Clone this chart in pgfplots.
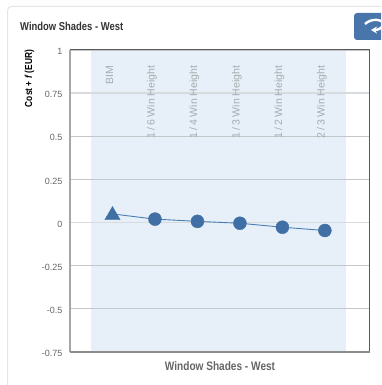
\documentclass[border=0pt]{standalone}
\usepackage{fontspec}
\setmainfont{Liberation Sans}
\newfontfamily\cond[FakeStretch=0.82]{Liberation Sans}
\usepackage{pgfplots}
\usetikzlibrary{arrows.meta}
\pgfplotsset{compat=1.18}
\definecolor{band}{HTML}{E7F0F8}
\definecolor{mk}{HTML}{3F6FA5}
\definecolor{ln}{HTML}{4A7DB3}
\definecolor{gridthin}{HTML}{C3C7CA}
\definecolor{gridthick}{HTML}{D8DBDD}
\definecolor{ticktxt}{HTML}{666666}
\definecolor{cat}{HTML}{A6ABB0}
\begin{document}
\begin{tikzpicture}
\path (0pt,0pt) rectangle (381pt,385pt);
\begin{scope}[overlay,x=1pt,y=1pt]
\clip (0,0) rectangle (381,385);
\draw[draw=black!10,line width=1pt,rounded corners=4pt] (7.5,-20) -- (7.5,378.5) -- (400,378.5);
\fill[mk!95,rounded corners=3pt] (354,345) rectangle (400,372);
\draw[white,line width=2.4pt,-{Stealth[length=6pt,width=7pt]}] (365,361) .. controls (371,367) and (383,366) .. (383,361) .. controls (383,357) and (378,355) .. (371,355);
\end{scope}
\begin{scope}[x=1pt,y=1pt]
\node[anchor=west,inner sep=0pt,text=black!80,font=\cond\bfseries\fontsize{11.5}{13}\selectfont] at (20,358.5) {Window Shades - West};
\node[anchor=center,inner sep=0pt,text=black!60,font=\cond\bfseries\fontsize{12.3}{14}\selectfont] at (220,19) {Window Shades - West};
\node[anchor=center,rotate=90,inner sep=0pt,text=black,font=\cond\bfseries\fontsize{10.2}{12}\selectfont] at (29.5,306.5) {Cost + \textit{f} (EUR)};
\end{scope}
\begin{axis}[
  at={(70pt,33pt)},anchor=south west,
  scale only axis,width=299.5pt,height=302pt,
  set layers,
  xmin=-1,xmax=6.05,ymin=-0.75,ymax=1,
  xtick=\empty,
  ytick={-0.75,-0.5,-0.25,0.25,0.5,1},
  extra y ticks={0,0.75},
  extra y tick style={grid style={gridthick,line width=1.6pt}},
  ymajorgrids,
  grid style={gridthin,line width=0.8pt},
  major tick length=0pt,
  axis line style={draw=none},
  tick label style={font=\fontsize{9}{11}\selectfont,text=ticktxt},
  yticklabel style={xshift=-4pt,yshift=-1.5pt,/pgf/number format/fixed,/pgf/number format/precision=2,/pgf/number format/assume math mode=true},
  clip=false,
]
\addplot[/pgfplots/on layer=axis background,fill=band,draw=none] coordinates {(-0.5,-0.75) (-0.5,1) (5.5,1) (5.5,-0.75)};
\addplot[ln,line width=0.9pt,no markers] coordinates {(0,0.05) (1,0.02) (2,0.007) (3,-0.004) (4,-0.027) (5,-0.046)};
\addplot[only marks,mark=triangle*,mark size=8.8pt,mk,mark options={draw=mk,fill=mk}] coordinates {(0,0.042)};
\addplot[only marks,mark=*,mark size=6.5pt,mk,mark options={draw=mk,fill=mk}] coordinates {(1,0.02) (2,0.007) (3,-0.004) (4,-0.027) (5,-0.046)};
\node[rotate=90,anchor=east,inner sep=0pt,text=cat,font=\fontsize{10.5}{12}\selectfont] at (axis cs:-0.07,0.91) {BIM};
\node[rotate=90,anchor=east,inner sep=0pt,text=cat,font=\fontsize{10.5}{12}\selectfont] at (axis cs:0.93,0.91) {1\,/\,6 Win Height};
\node[rotate=90,anchor=east,inner sep=0pt,text=cat,font=\fontsize{10.5}{12}\selectfont] at (axis cs:1.93,0.91) {1\,/\,4 Win Height};
\node[rotate=90,anchor=east,inner sep=0pt,text=cat,font=\fontsize{10.5}{12}\selectfont] at (axis cs:2.93,0.91) {1\,/\,3 Win Height};
\node[rotate=90,anchor=east,inner sep=0pt,text=cat,font=\fontsize{10.5}{12}\selectfont] at (axis cs:3.93,0.91) {1\,/\,2 Win Height};
\node[rotate=90,anchor=east,inner sep=0pt,text=cat,font=\fontsize{10.5}{12}\selectfont] at (axis cs:4.93,0.91) {2\,/\,3 Win Height};
\draw[black!35,line width=2pt] (rel axis cs:0,0) -- (rel axis cs:0,1);
\draw[black!65,line width=1pt] (rel axis cs:0,1) -- (rel axis cs:1,1) -- (rel axis cs:1,0);
\draw[black!45,line width=1.3pt] (rel axis cs:0,0) -- (rel axis cs:1,0);
\end{axis}
\end{tikzpicture}
\end{document}
